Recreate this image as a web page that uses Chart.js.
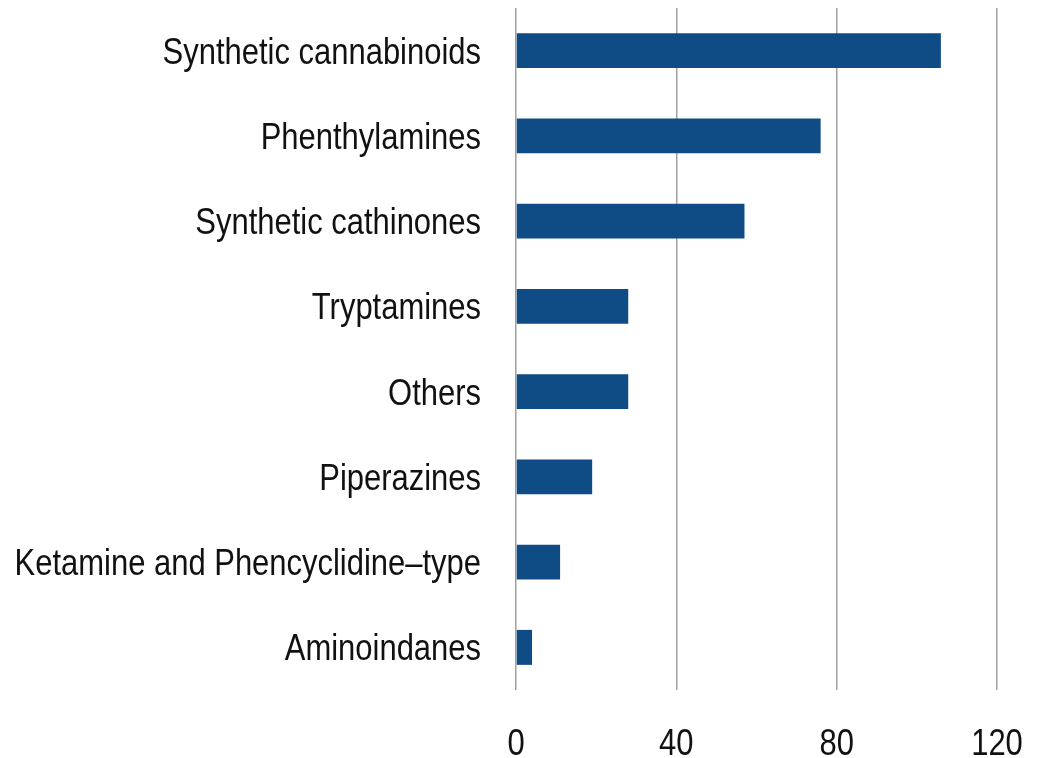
<!DOCTYPE html>
<html>
<head>
<meta charset="utf-8">
<script src="https://cdn.jsdelivr.net/npm/chart.js@4"></script>
<style>
html,body{margin:0;padding:0;background:#fff;}
</style>
</head>
<body>
<canvas id="c" width="1037" height="758" style="width:1037px;height:758px;display:block"></canvas>
<script>
const categories = ["Synthetic cannabinoids","Phenthylamines","Synthetic cathinones","Tryptamines","Others","Piperazines","Ketamine and Phencyclidine\u2013type","Aminoindanes"];
const values = [106, 76, 57, 28, 28, 19, 11, 4];
const xTicks = [0, 40, 80, 120];

const FONT = "'Liberation Sans', Arial, sans-serif";
const NARROW = 0.86;

// draw tick labels horizontally condensed (reference uses a narrow face)
function condense(scale) {
  const orig = scale.drawLabels;
  if (orig._wrapped) return;
  scale.drawLabels = function(area) {
    const ctx = this.ctx;
    const fill = ctx.fillText;
    ctx.fillText = function(t, x, y, mw) {
      this.save();
      this.translate(x, y);
      this.scale(NARROW, 1);
      fill.call(this, t, 0, 0);
      this.restore();
    };
    try { orig.call(this, area); } finally { ctx.fillText = fill; }
  };
  scale.drawLabels._wrapped = true;
}

const condensePlugin = {
  id: 'condense',
  afterLayout(chart) { condense(chart.scales.x); condense(chart.scales.y); }
};

new Chart(document.getElementById('c'), {
  type: 'bar',
  data: {
    labels: categories,
    datasets: [{
      data: values,
      backgroundColor: '#0f4c86',
      borderWidth: 0,
      categoryPercentage: 1,
      barPercentage: 0.41
    }]
  },
  plugins: [condensePlugin],
  options: {
    indexAxis: 'y',
    responsive: false,
    animation: false,
    layout: { padding: { top: 8, right: 40, bottom: 0, left: 0 } },
    plugins: { legend: { display: false }, tooltip: { enabled: false } },
    scales: {
      x: {
        min: 0, max: 120,
        afterBuildTicks: (axis) => { axis.ticks = xTicks.map(v => ({ value: v })); },
        afterFit: (s) => { s.height = 68; s.paddingLeft = 0; s.paddingRight = 0; },
        grid: { color: '#a0a0a0', lineWidth: 1.5, drawTicks: false },
        border: { display: false },
        ticks: { font: { family: FONT, size: 36 }, color: '#111', padding: 33, maxRotation: 0 }
      },
      y: {
        afterFit: (s) => { s.width = 516; s.paddingTop = 0; s.paddingBottom = 0; },
        grid: { display: false, drawTicks: false },
        border: { display: false },
        ticks: { font: { family: FONT, size: 36 }, color: '#111', padding: 35, labelOffset: 3 }
      }
    }
  }
});
</script>
</body>
</html>
